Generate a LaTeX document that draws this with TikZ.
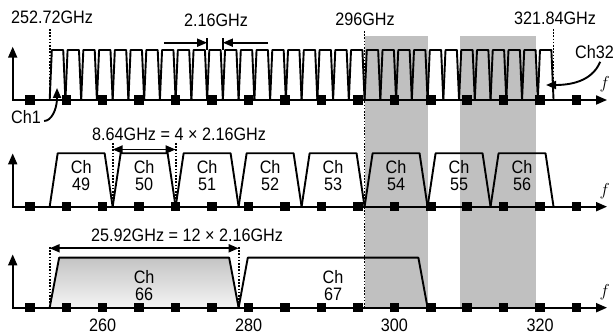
\documentclass[tikz,border=0pt]{standalone}
\usepackage{fontspec}
\setmainfont{Liberation Sans}[FakeStretch=0.9]
\usepackage{tikz}
\usetikzlibrary{arrows.meta,positioning,calc}
\definecolor{BandGray}{HTML}{C0C0C0}
\definecolor{ChanTop}{HTML}{C4C4C4}
\definecolor{ChanBot}{HTML}{F4F4F4}

\begin{document}
\begin{tikzpicture}[x=7.29pt,y=-1pt,
  axis/.style={line width=1.9pt,{Triangle[length=11pt,width=9pt]}-{Triangle[length=11pt,width=9pt]}},
  chan/.style={line width=1.9pt,line join=round},
  sq/.style={fill=black,minimum size=9.5pt,inner sep=0pt},
  guide/.style={line width=1.8pt,dash pattern=on 1.6pt off 1.6pt},
  lbl/.style={font=\fontsize{18}{17}\selectfont,align=center,inner sep=0pt},
  dim/.style={line width=1.9pt,{Triangle[length=10pt,width=8pt]}-{Triangle[length=10pt,width=8pt]}},
  arr/.style={line width=1.9pt,-{Triangle[length=10pt,width=8pt]}}
]
  \useasboundingbox (245.91,0) rectangle (330.0,334);
  \fill[BandGray] (295.92,36) rectangle (304.56,307.7);
  \fill[BandGray] (309.0,36) rectangle (319.5,307.7);

  \draw[guide] (252.72,29) -- (252.72,100);
  \draw[guide] (295.92,31) -- (295.92,307.7);
  \draw[guide] (321.84,29) -- (321.84,95);

  \foreach \k in {0,...,31}{
    \pgfmathsetmacro\a{252.72+2.16*\k}
    \draw[chan] (\a,100) -- (\a+0.3,50) -- (\a+1.86,50) -- (\a+2.16,100);
  }
  \draw[chan] (274.32,38.5) -- (274.32,50);
  \draw[chan] (276.48,38.5) -- (276.48,50);
  \draw[arr] (268.4,42.7) -- (274.32,42.7);
  \draw[arr] (282.7,42.7) -- (276.48,42.7);

  \foreach \k in {0,...,7}{
    \pgfmathsetmacro\a{252.72+8.64*\k}
    \pgfmathtruncatemacro\n{49+\k}
    \draw[chan] (\a,206.7) -- (\a+1.1,153.3) -- (\a+7.54,153.3) -- (\a+8.64,206.7);
    \node[lbl] (ch\n) at (\a+4.32,176) {Ch\\\n};
  }
  \draw[guide] (261.36,143) -- (261.36,206.7);
  \draw[guide] (270,143) -- (270,206.7);
  \draw[dim] (261.36,149.5) -- (270,149.5);

  \shade[top color=ChanTop,bottom color=ChanBot] (252.72,307.7) -- (254.02,257.7) -- (277.34,257.7) -- (278.64,307.7) -- cycle;
  \draw[chan] (252.72,307.7) -- (254.02,257.7) -- (277.34,257.7) -- (278.64,307.7);
  \draw[chan] (278.64,307.7) -- (279.9,257.7) -- (303.3,257.7) -- (304.56,307.7);
  \node[lbl] (ch66) at (265.68,286) {Ch\\66};
  \node[lbl] (ch67) at (291.6,286) {Ch\\67};
  \draw[guide] (252.72,247) -- (252.72,307.7);
  \draw[guide] (278.64,247) -- (278.64,307.7);
  \draw[dim] (252.72,248.3) -- (278.64,248.3);

  \foreach \y/\r in {100/a,206.7/b,307.7/c}{
    \draw[axis] (247.65,\y-53.3) -- (247.65,\y) -- (329.18,\y);
    \foreach \t in {250,255,...,325}
      \node[sq] (tk\r\t) at (\t,\y) {};
    \node[font=\fontsize{19}{19}\selectfont,inner sep=0pt] (f\r) at (328.85,\y-16) {$f$};
  }
  \foreach \t in {260,280,300,320}
    \node[lbl] (fl\t) at (\t,325.5) {\t};

  \node[lbl] (fstart) at (253.05,17) {252.72GHz};
  \node[lbl] (fstep) at (275.54,20) {2.16GHz};
  \node[lbl] (fmid) at (295.98,19) {296GHz};
  \node[lbl] (fend) at (322.05,18) {321.84GHz};
  \node[lbl] (bw50) at (270.47,134) {8.64GHz = 4 × 2.16GHz};
  \node[lbl] (bw66) at (271.57,235) {25.92GHz = 12 × 2.16GHz};

  \node[lbl] (ch1) at (249.48,117) {Ch1};
  \node[lbl,anchor=west] (ch32) at (324.79,52) {Ch32};
  \coordinate (ch1tip) at (253.73,88);
  \coordinate (ch32tip) at (320.81,85);
  \draw[arr] ([xshift=3pt,yshift=-4pt]ch1.east) .. controls +(7pt,0) and (253.73,110) .. (ch1tip);
  \draw[arr] ([xshift=-14pt,yshift=-3pt]ch32.south east) .. controls (327.1,82) and (324,85) .. (ch32tip);
\end{tikzpicture}
\end{document}
